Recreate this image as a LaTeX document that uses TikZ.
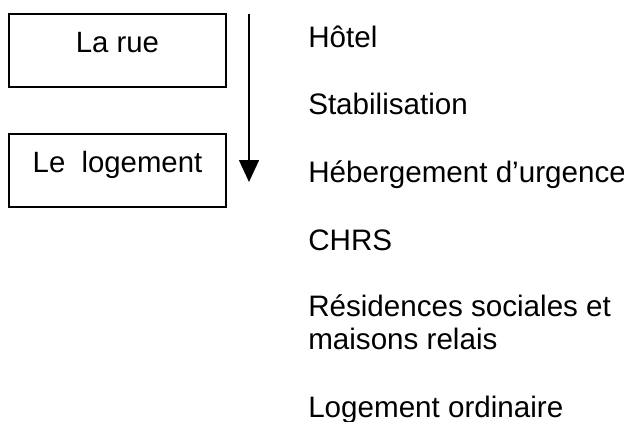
\documentclass[tikz,border=0pt]{standalone}
\usepackage{fontspec}
\setmainfont{Liberation Sans}
\usetikzlibrary{arrows.meta}
\tikzset{
  box/.style={draw, line width=1.1pt, minimum width=217*0.75pt, minimum height=73*0.75pt, inner sep=0pt},
  boxtext/.style={anchor=base, inner sep=0pt, font=\fontsize{22}{26}\selectfont},
  item/.style={anchor=base west, inner sep=0pt, font=\fontsize{22.2}{26}\selectfont},
  flow/.style={line width=1.1pt, -{Triangle[length=22*0.75pt, width=20*0.75pt]}}
}
\begin{document}
\begin{tikzpicture}[x=0.75pt, y=-0.75pt]
\useasboundingbox (0,0) rectangle (624,421);
\node[box] (rue) at (117.5,50.5) {};
\node[boxtext] (ruetxt) at (117.5,52) {La rue};
\node[box] (log) at (117.5,170.5) {};
\node[boxtext] (logtxt) at (117.5,172) {Le\ \ logement};
\coordinate (a0) at (249,14);
\coordinate (a1) at (249,182);
\draw[flow] (a0) -- (a1);
\node[item] (i1) at (308,47) {Hôtel};
\node[item] (i2) at (308,114) {Stabilisation};
\node[item] (i3) at (308,182.5) {Hébergement d’urgence};
\node[item] (i4) at (308,250) {CHRS};
\node[item] (i5) at (308,316) {Résidences sociales et};
\node[item] (i6) at (308,349) {maisons relais};
\node[item] (i7) at (308,417) {Logement ordinaire};
\end{tikzpicture}
\end{document}
